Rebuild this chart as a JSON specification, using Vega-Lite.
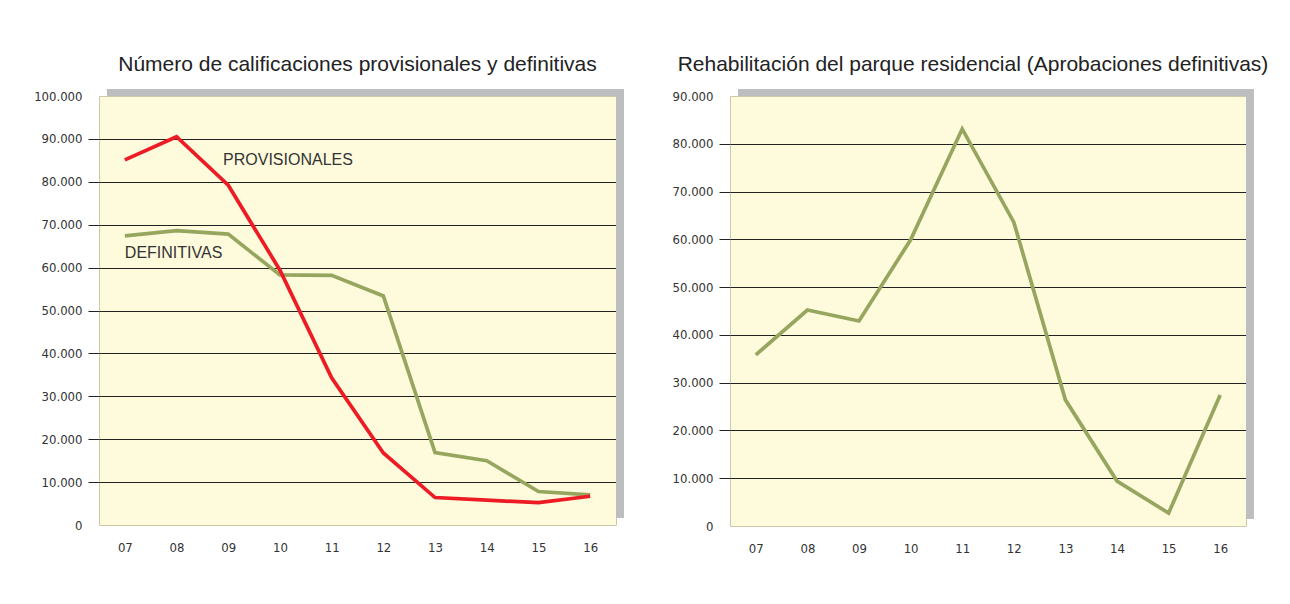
{
  "$schema": "https://vega.github.io/schema/vega-lite/v6.json",
  "background": "white",
  "padding": {"left": 33, "top": 53, "right": 4, "bottom": 4},
  "spacing": 46,
  "config": {
    "view": {"fill": "#FEFBDD", "stroke": "#cdc9a6", "strokeWidth": 1},
    "axis": {"labelFont": "Liberation Sans Narrow, DejaVu Sans Condensed, sans-serif", "labelFontSize": 13, "labelColor": "#333333", "labelFlush": false, "labelOverlap": false},
    "title": {"font": "Liberation Sans, Arial, sans-serif", "fontSize": 21, "fontWeight": "normal", "color": "#222222", "offset": 14},
    "text": {"font": "Liberation Sans, Arial, sans-serif", "fontSize": 16, "color": "#333333"}
  },
  "datasets": {
    "calif": [
      {"year": 7, "serie": "DEFINITIVAS", "value": 67400},
      {"year": 8, "serie": "DEFINITIVAS", "value": 68600},
      {"year": 9, "serie": "DEFINITIVAS", "value": 67800},
      {"year": 10, "serie": "DEFINITIVAS", "value": 58300},
      {"year": 11, "serie": "DEFINITIVAS", "value": 58200},
      {"year": 12, "serie": "DEFINITIVAS", "value": 53400},
      {"year": 13, "serie": "DEFINITIVAS", "value": 16900},
      {"year": 14, "serie": "DEFINITIVAS", "value": 15000},
      {"year": 15, "serie": "DEFINITIVAS", "value": 7800},
      {"year": 16, "serie": "DEFINITIVAS", "value": 7000},
      {"year": 7, "serie": "PROVISIONALES", "value": 85100},
      {"year": 8, "serie": "PROVISIONALES", "value": 90500},
      {"year": 9, "serie": "PROVISIONALES", "value": 79200},
      {"year": 10, "serie": "PROVISIONALES", "value": 59400},
      {"year": 11, "serie": "PROVISIONALES", "value": 34300},
      {"year": 12, "serie": "PROVISIONALES", "value": 16800},
      {"year": 13, "serie": "PROVISIONALES", "value": 6400},
      {"year": 14, "serie": "PROVISIONALES", "value": 5800},
      {"year": 15, "serie": "PROVISIONALES", "value": 5200},
      {"year": 16, "serie": "PROVISIONALES", "value": 6700}
    ],
    "rehab": [
      {"year": 7, "value": 35800},
      {"year": 8, "value": 45200},
      {"year": 9, "value": 42900},
      {"year": 10, "value": 59900},
      {"year": 11, "value": 83100},
      {"year": 12, "value": 63600},
      {"year": 13, "value": 26400},
      {"year": 14, "value": 9400},
      {"year": 15, "value": 2700},
      {"year": 16, "value": 27400}
    ]
  },
  "hconcat": [
    {
      "width": 517,
      "height": 429,
      "title": {"text": "Número de calificaciones provisionales y definitivas"},
      "layer": [
        {
          "data": {"values": [{}]},
          "mark": {"type": "rect", "color": "#bdbec0", "xOffset": 8, "x2Offset": 8, "yOffset": -7},
          "encoding": {
            "x": {"datum": 6.5, "type": "quantitative", "title": null},
            "x2": {"datum": 16.5},
            "y": {"datum": 100000, "type": "quantitative", "title": null},
            "y2": {"datum": 100000}
          }
        },
        {
          "data": {"values": [{}]},
          "mark": {"type": "rect", "color": "#bdbec0", "x2Offset": 8, "yOffset": -7, "y2Offset": -7},
          "encoding": {
            "x": {"datum": 16.5, "type": "quantitative", "title": null},
            "x2": {"datum": 16.5},
            "y": {"datum": 100000, "type": "quantitative", "title": null},
            "y2": {"datum": 0}
          }
        },
        {
          "data": {"name": "calif"},
          "transform": [{"filter": "datum.serie === 'DEFINITIVAS'"}],
          "mark": {"type": "line", "color": "#97A65F", "strokeWidth": 3.7},
          "encoding": {
            "x": {"field": "year", "type": "quantitative", "title": null,
                  "scale": {"domain": [6.5, 16.5], "nice": false, "zero": false},
                  "axis": {"values": [7, 8, 9, 10, 11, 12, 13, 14, 15, 16], "labelExpr": "datum.value < 10 ? '0' + datum.value : '' + datum.value", "ticks": false, "domain": false, "grid": false, "labelPadding": 16, "title": null}},
            "y": {"field": "value", "type": "quantitative", "title": null,
                  "scale": {"domain": [0, 100000], "nice": false},
                  "axis": {"values": [0, 10000, 20000, 30000, 40000, 50000, 60000, 70000, 80000, 90000, 100000], "labelExpr": "replace(format(datum.value, ','), ',', '.')", "grid": true, "gridColor": "#222222", "gridWidth": 1, "gridOpacity": {"condition": {"test": "datum.value > 0 && datum.value < 100000", "value": 1}, "value": 0}, "tickColor": "#222222", "tickSize": 11, "tickOpacity": {"condition": {"test": "datum.value > 0 && datum.value < 100000", "value": 1}, "value": 0}, "domain": false, "labelPadding": 6, "title": null}}
          }
        },
        {
          "data": {"name": "calif"},
          "transform": [{"filter": "datum.serie === 'PROVISIONALES'"}],
          "mark": {"type": "line", "color": "#ED1C24", "strokeWidth": 3.7},
          "encoding": {
            "x": {"field": "year", "type": "quantitative", "title": null},
            "y": {"field": "value", "type": "quantitative", "title": null}
          }
        },
        {
          "data": {"values": [{}]},
          "mark": {"type": "text", "text": "PROVISIONALES", "align": "left", "baseline": "middle"},
          "encoding": {
            "x": {"datum": 8.9, "type": "quantitative", "title": null},
            "y": {"datum": 85000, "type": "quantitative", "title": null}
          }
        },
        {
          "data": {"values": [{}]},
          "mark": {"type": "text", "text": "DEFINITIVAS", "align": "left", "baseline": "middle"},
          "encoding": {
            "x": {"datum": 7.0, "type": "quantitative", "title": null},
            "y": {"datum": 63300, "type": "quantitative", "title": null}
          }
        }
      ]
    },
    {
      "width": 516,
      "height": 430,
      "title": {"text": "Rehabilitación del parque residencial (Aprobaciones definitivas)", "dx": -15},
      "layer": [
        {
          "data": {"values": [{}]},
          "mark": {"type": "rect", "color": "#bdbec0", "xOffset": 8, "x2Offset": 8, "yOffset": -7},
          "encoding": {
            "x": {"datum": 6.5, "type": "quantitative", "title": null},
            "x2": {"datum": 16.5},
            "y": {"datum": 90000, "type": "quantitative", "title": null},
            "y2": {"datum": 90000}
          }
        },
        {
          "data": {"values": [{}]},
          "mark": {"type": "rect", "color": "#bdbec0", "x2Offset": 8, "yOffset": -7, "y2Offset": -7},
          "encoding": {
            "x": {"datum": 16.5, "type": "quantitative", "title": null},
            "x2": {"datum": 16.5},
            "y": {"datum": 90000, "type": "quantitative", "title": null},
            "y2": {"datum": 0}
          }
        },
        {
          "data": {"name": "rehab"},
          "mark": {"type": "line", "color": "#97A65F", "strokeWidth": 3.7},
          "encoding": {
            "x": {"field": "year", "type": "quantitative", "title": null,
                  "scale": {"domain": [6.5, 16.5], "nice": false, "zero": false},
                  "axis": {"values": [7, 8, 9, 10, 11, 12, 13, 14, 15, 16], "labelExpr": "datum.value < 10 ? '0' + datum.value : '' + datum.value", "ticks": false, "domain": false, "grid": false, "labelPadding": 16, "title": null}},
            "y": {"field": "value", "type": "quantitative", "title": null,
                  "scale": {"domain": [0, 90000], "nice": false},
                  "axis": {"values": [0, 10000, 20000, 30000, 40000, 50000, 60000, 70000, 80000, 90000], "labelExpr": "replace(format(datum.value, ','), ',', '.')", "grid": true, "gridColor": "#222222", "gridWidth": 1, "gridOpacity": {"condition": {"test": "datum.value > 0 && datum.value < 90000", "value": 1}, "value": 0}, "tickColor": "#222222", "tickSize": 11, "tickOpacity": {"condition": {"test": "datum.value > 0 && datum.value < 90000", "value": 1}, "value": 0}, "domain": false, "labelPadding": 6, "title": null}}
          }
        }
      ]
    }
  ]
}
